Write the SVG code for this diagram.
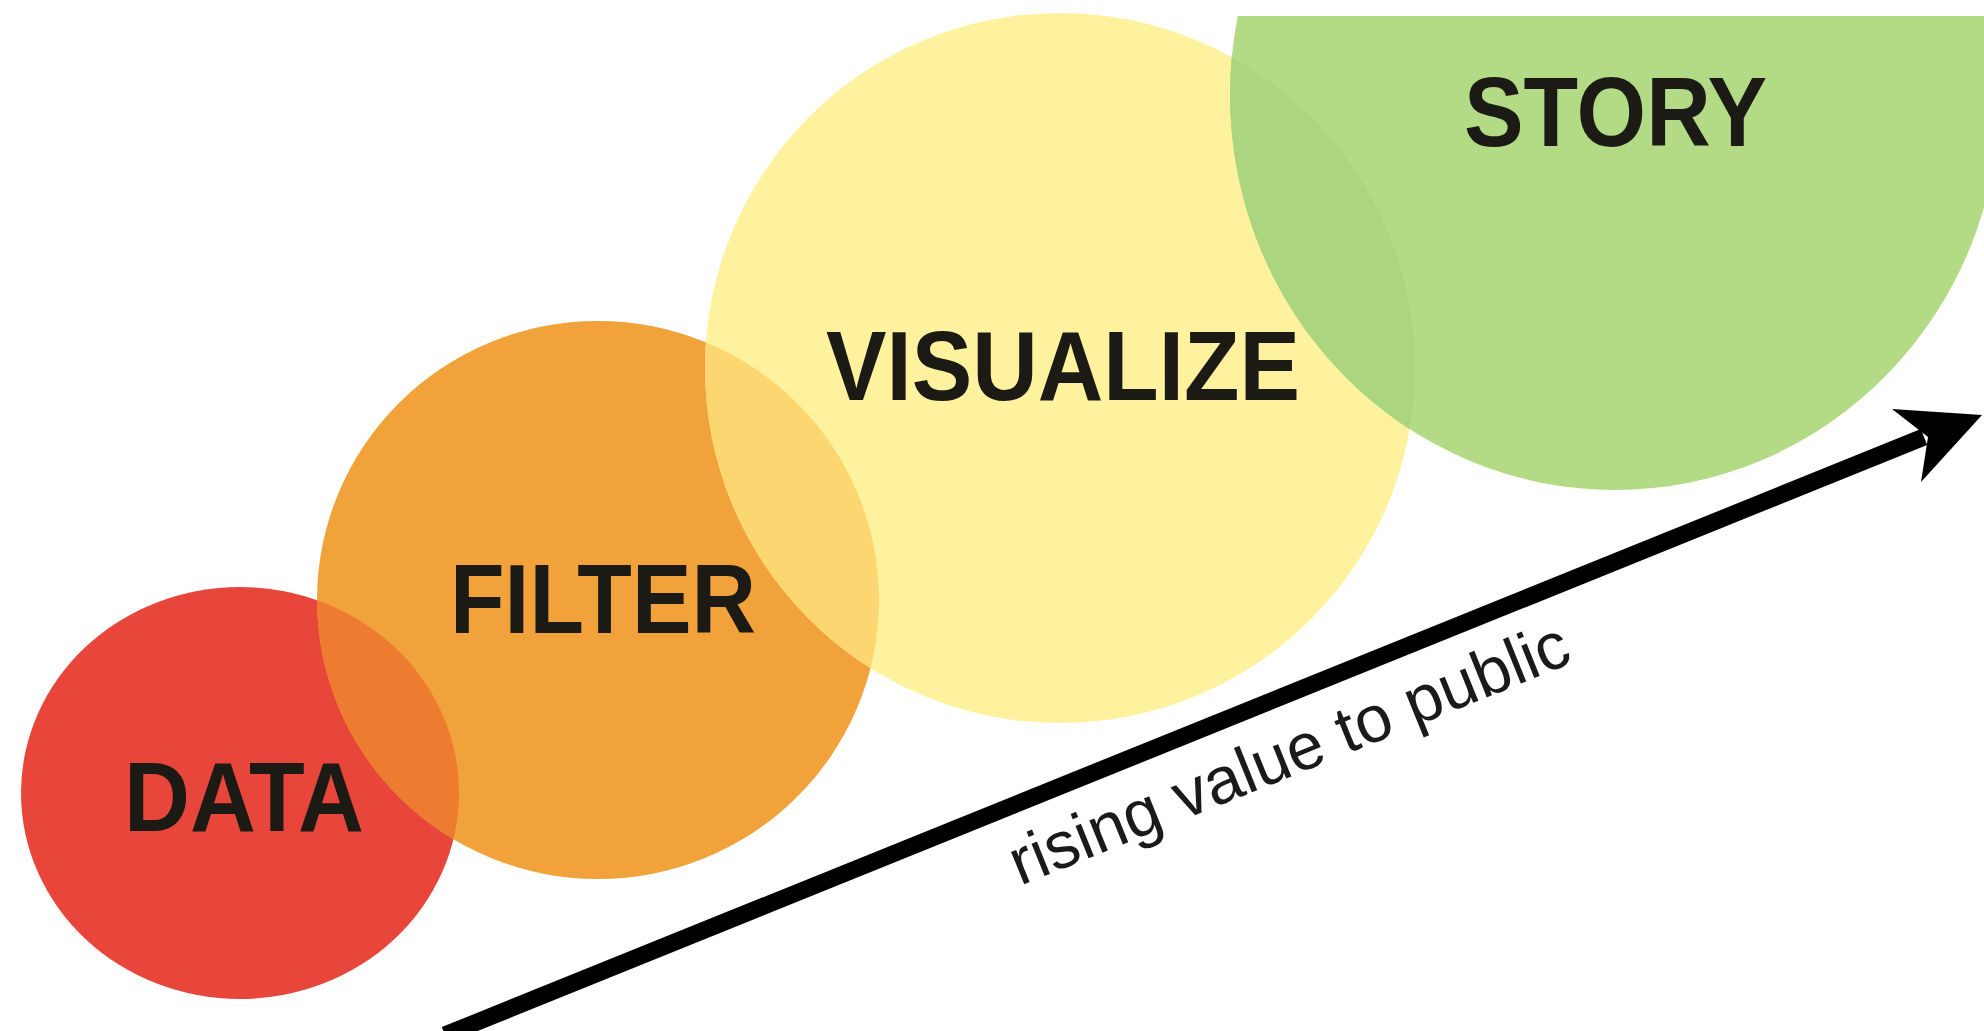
<svg xmlns="http://www.w3.org/2000/svg" width="1984" height="1031" viewBox="0 0 1984 1031">
  <style>
    .label { font-family: "Liberation Sans", Arial, sans-serif; font-weight: bold; font-size: 98px; fill: #1b1a15; }
    .axis-label { font-family: "Liberation Sans", Arial, sans-serif; font-size: 66px; fill: #1a1a1a; }
    .shaft { stroke: #000; stroke-width: 17; fill: none; }
  </style>
  <defs>
    <clipPath id="clipTop"><rect x="0" y="16" width="1984" height="1015"/></clipPath>
    <clipPath id="clipRed"><ellipse cx="240" cy="793" rx="219" ry="206"/></clipPath>
    <clipPath id="clipOrange"><ellipse cx="598" cy="600" rx="281" ry="279"/></clipPath>
    <clipPath id="clipYellow"><circle cx="1060" cy="368" r="355"/></clipPath>
  </defs>
  <rect x="0" y="0" width="1984" height="1031" fill="#ffffff"/>

  <g id="node-data">
    <ellipse cx="240" cy="793" rx="219" ry="206" fill="#e8453b"/>
  </g>
  <g id="node-filter">
    <ellipse cx="598" cy="600" rx="281" ry="279" fill="#f2a23a"/>
    <ellipse cx="598" cy="600" rx="281" ry="279" fill="#ee7c30" clip-path="url(#clipRed)"/>
  </g>
  <g id="node-visualize">
    <circle cx="1060" cy="368" r="355" fill="#fef29e"/>
    <circle cx="1060" cy="368" r="355" fill="#fcd670" clip-path="url(#clipOrange)"/>
  </g>
  <g id="node-story" clip-path="url(#clipTop)">
    <ellipse cx="1615" cy="95" rx="385" ry="395" fill="#b3db86"/>
    <g clip-path="url(#clipYellow)">
      <ellipse cx="1615" cy="95" rx="385" ry="395" fill="#abd57e"/>
    </g>
  </g>

  <g id="labels">
    <text class="label" x="124" y="831" textLength="240" lengthAdjust="spacingAndGlyphs">DATA</text>
    <text class="label" x="450" y="633" textLength="306" lengthAdjust="spacingAndGlyphs">FILTER</text>
    <text class="label" x="826" y="400" textLength="474" lengthAdjust="spacingAndGlyphs">VISUALIZE</text>
    <text class="label" x="1464" y="146" textLength="303" lengthAdjust="spacingAndGlyphs">STORY</text>
  </g>

  <g id="connectors">
    <line class="shaft" x1="445" y1="1035" x2="1924" y2="437"/>
    <polygon points="1982,415 1892,409 1928,437 1921,482" fill="#000"/>
    <text class="axis-label" transform="translate(1020 886) rotate(-22)">rising value to public</text>
  </g>
</svg>
